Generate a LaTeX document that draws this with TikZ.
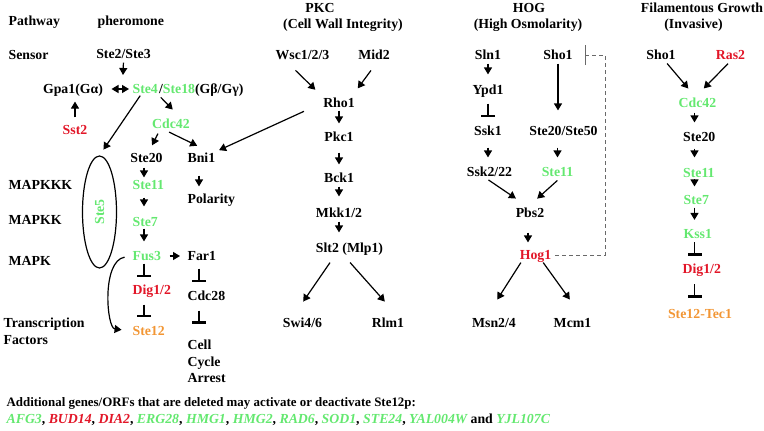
\documentclass[tikz,border=0pt]{standalone}
\usepackage{fontspec}
\setmainfont{Liberation Serif}
\usepackage{color}
\definecolor{stegreen}{RGB}{100,232,112}
\definecolor{stered}{RGB}{226,22,40}
\definecolor{steorange}{RGB}{242,150,52}
\definecolor{fbgray}{RGB}{105,105,105}
\usepackage{tikz}
\usetikzlibrary{arrows.meta,shapes.geometric,positioning}
\tikzstyle{gene}=[inner sep=0.5pt,text height=10pt,text depth=1pt]
\tikzstyle{lbl}=[gene,anchor=west]
\tikzstyle{act}=[-{Triangle[length=7pt,width=8pt]}]
\tikzstyle{inh}=[-{Bar[width=14pt,line width=2.6pt]}]
\tikzstyle{fb}=[draw=fbgray,line width=0.9pt,dash pattern=on 4pt off 3pt,-{Bar[width=20pt,line width=1.3pt]},shorten <=3pt]
\tikzset{sh/.style 2 args={shorten <=#1,shorten >=#2}}

\begin{document}
\begin{tikzpicture}[x=1pt,y=-1pt,line width=1.2pt,font=\fontsize{13.8}{16.5}\selectfont\bfseries]
\useasboundingbox (0,0) rectangle (764,431);
\node[lbl] (pw) at (7.5,21) {Pathway};
\node[lbl] (pher) at (96.5,21) {pheromone};
\node[lbl] (sens) at (7.5,55) {Sensor};
\node[lbl] (kkk) at (7.5,185) {MAPKKK};
\node[lbl] (kk) at (7.5,220) {MAPKK};
\node[lbl] (k) at (7.5,261) {MAPK};
\node[anchor=west,align=left,inner sep=0.5pt] (tf) at (2.5,331.5) {Transcription\\Factors};

\node[gene] (ste2) at (123.5,54) {Ste2/Ste3};
\coordinate (gcx) at (123,75);
\node[gene] (gpa) at (73,89) {Gpa1(Gα)};
\node[gene,anchor=west,text=stegreen] (ste4) at (131.5,89) {Ste4};
\node[gene,anchor=west,xshift=-1pt] (ste18) at (ste4.east) {/\textcolor{stegreen}{Ste18}(Gβ/Gγ)};
\node[gene,text=stered] (sst2) at (75,130) {Sst2};
\node[gene,text=stegreen] (cdc42) at (171,124) {Cdc42};
\node[gene] (ste20) at (146.5,158) {Ste20};
\node[gene,anchor=west] (bni1) at (186.5,158) {Bni1};
\node[gene,anchor=west,text=stegreen] (ste11) at (131.5,185) {Ste11};
\node[gene,anchor=west] (pol) at (186.5,199) {Polarity};
\node[gene,anchor=west,text=stegreen] (ste7) at (131.5,222) {Ste7};
\node[gene,anchor=west,text=stegreen] (fus3) at (131.5,256) {Fus3};
\node[gene,anchor=west] (far1) at (186.5,256) {Far1};
\node[gene,anchor=west,text=stered] (dig) at (131.5,290) {Dig1/2};
\node[gene,anchor=west] (cdc28) at (186.5,296) {Cdc28};
\node[gene,anchor=west,text=steorange] (ste12) at (131.5,331) {Ste12};
\node[anchor=north west,align=left,inner sep=0.5pt] (arrest) at (186.5,339) {Cell\\Cycle\\Arrest};
\node[draw,ellipse,minimum width=34pt,minimum height=112pt,inner sep=0pt] (ste5) at (99.5,212) {};
\node[gene,rotate=90,text=stegreen] (ste5lbl) at (ste5.center) {Ste5};
\coordinate (pa) at (144,0);
\coordinate (pb) at (199,0);

\draw[act,sh={2pt}{0pt}] (ste2.south) -- (gcx);
\draw[{Triangle[length=7pt,width=8pt]}-{Triangle[length=7pt,width=8pt]},sh={7.5pt}{2.5pt}] (gpa) -- (ste4);
\draw[act,sh={6pt}{6pt}] (sst2) -- (sst2 |- gpa.south);
\draw[act,sh={2.5pt}{11pt}] (ste4.south east) -- ([xshift=9.5pt]cdc42.north);
\draw[act,sh={0pt}{7pt}] ([xshift=-5pt]ste4.south) -- (ste5.north);
\draw[act,sh={3.4pt}{6.8pt}] ([xshift=-11.5pt]cdc42.south) -- ([xshift=2.5pt]ste20.north);
\draw[act,sh={3.4pt}{13pt}] ([xshift=-5pt]cdc42.south) -- ([xshift=7.5pt]bni1.north);
\draw[act,sh={3pt}{1pt}] (ste20.south -| pa) -- (ste11.north -| pa);
\draw[act,sh={6pt}{9pt}] (ste11.south -| pa) -- (ste7.north -| pa);
\draw[act,sh={0pt}{8pt}] (ste7.south -| pa) -- (fus3.north -| pa);
\draw[inh,sh={1pt}{6pt}] (fus3.south -| pa) -- (dig.north -| pa);
\draw[inh,sh={8pt}{7pt}] (dig.south -| pa) -- (ste12.north -| pa);
\draw[act,sh={7.5pt}{6.5pt}] (fus3) -- (far1);
\draw[act,sh={11pt}{6pt}] (bni1.south -| pb) -- (pol.north -| pb);
\draw[inh,sh={6pt}{7pt}] (far1.south -| pb) -- (cdc28.north -| pb);
\draw[inh,sh={8pt}{15pt}] (cdc28.south -| pb) -- (arrest.north -| pb);
\draw[act,sh={7pt}{10pt}] (fus3.west) .. controls +(-30,5) and +(-25,-3) .. (ste12.west);

\node[gene] (pkc) at (320,8) {PKC};
\node[gene] (cwi) at (343,24) {(Cell Wall Integrity)};
\node[gene] (wsc) at (302.5,55) {Wsc1/2/3};
\node[gene] (mid2) at (374,55) {Mid2};
\node[gene] (rho1) at (339,103) {Rho1};
\node[gene] (pkc1) at (339,137) {Pkc1};
\node[gene] (bck1) at (339,178) {Bck1};
\node[gene] (mkk) at (339,213) {Mkk1/2};
\node[gene] (slt2) at (349.5,248) {Slt2 (Mlp1)};
\node[gene] (swi) at (302.5,323) {Swi4/6};
\node[gene] (rlm1) at (388,323) {Rlm1};

\draw[act,sh={20pt}{3pt}] (rho1.west) -- (bni1.north east);
\draw[act,sh={12.5pt}{9.5pt}] ([xshift=-16pt]wsc.south) -- (rho1.north west);
\draw[act,sh={11pt}{10pt}] ([xshift=3.5pt]mid2.south) -- ([xshift=-4pt]rho1.north east);
\draw[act,sh={1pt}{7pt}] (rho1) -- (pkc1);
\draw[act,sh={9pt}{7pt}] (pkc1) -- (bck1);
\draw[act,sh={2pt}{10pt}] (bck1) -- (mkk);
\draw[act,sh={2pt}{9pt}] (mkk) -- (mkk |- slt2.north);
\draw[act,sh={9.7pt}{18pt}] ([xshift=-14pt]slt2.south) -- ([xshift=-9.5pt]swi.north);
\draw[act,sh={10.6pt}{19.8pt}] ([xshift=-6.5pt]slt2.south) -- ([xshift=10pt]rlm1.north);

\node[gene] (hog) at (529,8) {HOG};
\node[gene] (hosm) at (528,24) {(High Osmolarity)};
\node[gene] (sln1) at (488,55) {Sln1};
\node[gene] (sho1) at (558,55) {Sho1};
\node[gene] (ypd1) at (488,90) {Ypd1};
\node[gene] (ssk1) at (488,131) {Ssk1};
\node[gene] (ste2050) at (563.5,131) {Ste20/Ste50};
\node[gene] (ssk2) at (489.5,172) {Ssk2/22};
\node[gene,text=stegreen] (ste11h) at (557.5,172) {Ste11};
\node[gene] (pbs2) at (530,213) {Pbs2};
\node[gene,text=stered] (hog1) at (535.5,255) {Hog1};
\node[gene] (msn) at (494,323) {Msn2/4};
\node[gene] (mcm1) at (572.5,323) {Mcm1};
\coordinate (hogfb) at (605,55);

\draw[act,sh={2pt}{9pt}] (sln1) -- (ypd1);
\draw[inh,sh={7pt}{7pt}] (ypd1) -- (ssk1);
\draw[act,sh={10pt}{8pt}] (ssk1) -- (ssk1 |- ssk2.north);
\draw[act,sh={2pt}{14pt}] (sho1) -- (sho1 |- ste2050.north);
\draw[act,sh={10pt}{8pt}] (ste11h |- ste2050.south) -- (ste11h);
\draw[act,sh={2.4pt}{14pt}] ([xshift=-3pt]ssk2.south) -- ([xshift=-2.5pt]pbs2.north);
\draw[act,sh={2.8pt}{11.6pt}] ([xshift=2pt]ste11h.south) -- ([xshift=-1.5pt]pbs2.north);
\draw[act,sh={13pt}{6pt}] ([xshift=-2pt]pbs2.south) -- ([xshift=-2pt]pbs2.south |- hog1.north);
\draw[act,sh={1.2pt}{20pt}] ([xshift=-14pt]hog1.south) -- ([xshift=-7.5pt]msn.north);
\draw[act,sh={1.2pt}{20.8pt}] ([xshift=7pt]hog1.south) -- ([xshift=9.5pt]mcm1.north);
\draw[fb] (hog1.east) -| (hogfb) -- ([xshift=11.5pt]sho1.east);

\node[gene] (filg) at (702,8) {Filamentous Growth};
\node[gene] (inv) at (693.5,24) {(Invasive)};
\node[gene] (sho1f) at (661,55) {Sho1};
\node[gene,text=stered] (ras2) at (730.5,55) {Ras2};
\node[gene,text=stegreen] (cdc42f) at (697.5,103) {Cdc42};
\node[gene,anchor=west] (ste20f) at (682,137) {Ste20};
\node[gene,anchor=west,text=stegreen] (ste11f) at (682,172.5) {Ste11};
\node[gene,anchor=west,text=stegreen] (ste7f) at (682.5,200) {Ste7};
\node[gene,anchor=west,text=stegreen] (kss1) at (682.5,233.5) {Kss1};
\node[gene,anchor=west,text=stered] (digf) at (681.5,268.5) {Dig1/2};
\node[gene,text=steorange] (tec1) at (700,313.5) {Ste12-Tec1};
\coordinate (pf) at (694.5,0);

\draw[act,sh={2.5pt}{10.3pt}] ([xshift=4.5pt]sho1f.south) -- ([xshift=-2.5pt]cdc42f.north);
\draw[act,sh={2.8pt}{11.1pt}] ([xshift=-0.5pt]ras2.south) -- ([xshift=-1.5pt]cdc42f.north);
\draw[act,sh={3pt}{8pt}] (cdc42f.south -| pf) -- (ste20f.north -| pf);
\draw[act,sh={5pt}{8.5pt}] (ste20f.south -| pf) -- (ste11f.north -| pf);
\draw[act,sh={0pt}{7pt}] (ste11f.south -| pf) -- (ste7f.north -| pf);
\draw[act,sh={1pt}{7pt}] (ste7f.south -| pf) -- (kss1.north -| pf);
\draw[inh,sh={2pt}{6pt}] (kss1.south -| pf) -- (digf.north -| pf);
\draw[inh,sh={9pt}{9pt}] (digf.south -| pf) -- (tec1.north -| pf);

\node[lbl,font=\fontsize{12.9}{15}\selectfont\bfseries] (note) at (5.5,401.5) {Additional genes/ORFs that are deleted may activate or deactivate Ste12p:};
\node[lbl] (orfs) at (5.5,419) {\textit{\textcolor{stegreen}{AFG3}}, \textit{\textcolor{stered}{BUD14}}, \textit{\textcolor{stered}{DIA2}}, \textit{\textcolor{stegreen}{ERG28}}, \textit{\textcolor{stegreen}{HMG1}}, \textit{\textcolor{stegreen}{HMG2}}, \textit{\textcolor{stegreen}{RAD6}}, \textit{\textcolor{stegreen}{SOD1}}, \textit{\textcolor{stegreen}{STE24}}, \textit{\textcolor{stegreen}{YAL004W}} and \textit{\textcolor{stegreen}{YJL107C}}};
\end{tikzpicture}
\end{document}
